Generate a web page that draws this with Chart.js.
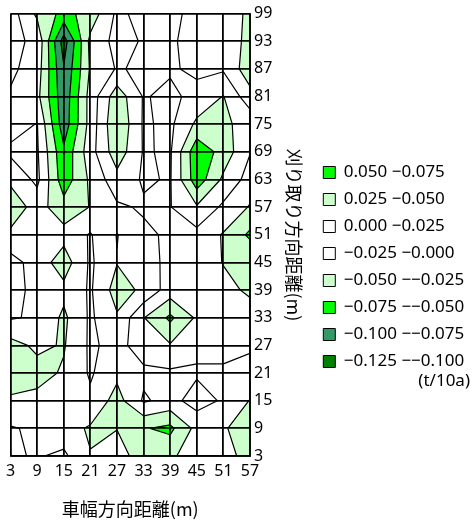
<!DOCTYPE html>
<html lang="ja">
<head>
<meta charset="utf-8">
<script src="https://cdn.jsdelivr.net/npm/chart.js@4.4.1/dist/chart.umd.min.js"></script>
<style>
html,body{margin:0;padding:0;background:#ffffff;}
#wrap{position:relative;width:473px;height:523px;}
canvas{display:block;}
</style>
</head>
<body>
<div id="wrap"><canvas id="chart" width="473" height="523"></canvas></div>
<script>
// ---- grid coordinates (m) and tick labels ----
const xPositions = [3, 9, 15, 21, 27, 33, 39, 45, 51, 57];
const yPositions = [3, 9, 15, 21, 27, 33, 39, 45, 51, 57, 63, 69, 75, 81, 87, 93, 99];
const xTickLabels = ['3', '9', '15', '21', '27', '33', '39', '45', '51', '57'];
const yTickLabels = ['3', '9', '15', '21', '27', '33', '39', '45', '51', '57', '63', '69', '75', '81', '87', '93', '99'];

// ---- measured values (t/10a), one row per y, columns x = 3 ... 57 ----
const z99 = [0.012, -0.030, -0.058, -0.040, 0.005, -0.007, -0.005, 0.006, 0.003, 0.033];
const z93 = [0.006, -0.005, -0.112, -0.018, 0.008, -0.002, -0.003, 0.008, 0.004, 0.035];
const z87 = [0.005, -0.012, -0.098, -0.022, 0.002, -0.004, -0.003, 0.005, 0.003, 0.040];
const z81 = [-0.003, -0.018, -0.092, -0.015, 0.040, -0.002, 0.006, -0.008, -0.026, 0.016];
const z75 = [-0.010, 0.001, -0.090, -0.015, 0.048, -0.003, 0.005, -0.030, -0.028, -0.019];
const z69 = [0.005, 0.003, -0.070, -0.010, 0.040, -0.002, 0.003, -0.068, -0.040, -0.001];
const z63 = [-0.020, 0.006, -0.065, -0.020, 0.016, -0.003, 0.002, -0.065, -0.020, 0.010];
const z57 = [-0.040, -0.015, -0.040, -0.024, -0.004, 0.003, 0.001, -0.022, 0.005, 0.027];
const z51 = [-0.020, -0.008, -0.016, 0.002, -0.026, -0.005, 0.004, 0.008, 0.027, 0.055];
const z45 = [0.010, -0.011, -0.038, 0.004, -0.024, -0.008, 0.005, 0.010, 0.026, 0.0255];
const z39 = [0.005, -0.004, -0.018, 0.003, -0.036, -0.020, 0.012, 0.006, 0.018, 0.029];
const z33 = [0.002, -0.003, -0.030, 0.004, -0.022, 0.024, 0.055, 0.021, 0.008, 0.014];
const z27 = [-0.034, -0.020, -0.027, 0.004, -0.008, 0.012, 0.023, 0.006, 0.004, 0.002];
const z21 = [-0.036, -0.034, -0.022, 0.003, -0.019, -0.005, -0.004, -0.003, -0.002, -0.005];
const z15 = [-0.022, -0.018, -0.010, -0.005, -0.035, 0.003, -0.008, 0.010, -0.003, -0.026];
const z9  = [0.002, -0.004, -0.015, -0.028, -0.026, -0.048, -0.056, -0.017, -0.023, -0.035];
const z3  = [0.003, -0.002, 0.005, -0.024, -0.010, -0.042, -0.030, -0.010, -0.015, -0.035];
const zRows = [z3, z9, z15, z21, z27, z33, z39, z45, z51, z57, z63, z69, z75, z81, z87, z93, z99];

// ---- colour bands (legend order, top to bottom) ----
const bandLabels = ['0.050 \u22120.075', '0.025 \u22120.050', '0.000 \u22120.025', '\u22120.025 \u22120.000',
                    '\u22120.050 \u2212\u22120.025', '\u22120.075 \u2212\u22120.050', '\u22120.100 \u2212\u22120.075', '\u22120.125 \u2212\u22120.100'];
const bandLow  = [0.050, 0.025, 0.000, -0.025, -0.050, -0.075, -0.100, -0.125];
const bandHigh = [0.075, 0.050, 0.025, 0.000, -0.025, -0.050, -0.075, -0.100];
const bandColors = ['#00ff00', '#ccffcc', '#ffffff', '#ffffff', '#ccffcc', '#00ff00', '#339966', '#008000'];
const contourLevels = [-0.125, -0.100, -0.075, -0.050, -0.025, 0.000, 0.025, 0.050, 0.075];

const unitLabel = '(t/10a)';
const xTitle = '車幅方向距離(m)';
const yTitle = '刈り取り方向距離(m)';

const LATIN = '"Noto Sans", "Noto Sans CJK JP", sans-serif';
const CJK = '"Noto Sans CJK JP", "Noto Sans", sans-serif';

// grid points for the library (x, y in metres, z value)
const gridPoints = [];
yPositions.forEach((yv, j) => xPositions.forEach((xv, i) => gridPoints.push({x: xv, y: yv, z: zRows[j][i]})));

function clipPoly(poly, t, s) {
  if (!isFinite(t) || poly.length === 0) return poly;
  const out = [];
  for (let k = 0; k < poly.length; k++) {
    const a = poly[k], b = poly[(k + 1) % poly.length];
    const ina = s * (a.z - t) >= 0, inb = s * (b.z - t) >= 0;
    if (ina) out.push(a);
    if (ina !== inb) {
      const f = (t - a.z) / (b.z - a.z);
      out.push({x: a.x + f * (b.x - a.x), y: a.y + f * (b.y - a.y), z: t});
    }
  }
  return out;
}
function edgePt(p, q, L) {
  const f = (L - p.z) / (q.z - p.z);
  return {x: p.x + f * (q.x - p.x), y: p.y + f * (q.y - p.y)};
}

const contourPlugin = {
  id: 'contourBands',
  beforeDatasetsDraw(chart) {
    const pts = chart.data.datasets[0].data;
    const xs = chart.scales.x, ys = chart.scales.y;
    const nx = xPositions.length, ny = yPositions.length;
    const node = (i, j) => {
      const p = pts[j * nx + i];
      return {x: xs.getPixelForValue(p.x), y: ys.getPixelForValue(p.y), z: p.z};
    };
    const ctx = chart.ctx, a = chart.chartArea;
    ctx.save();
    ctx.beginPath();
    ctx.rect(a.left, a.top, a.right - a.left, a.bottom - a.top);
    ctx.clip();
    ctx.lineJoin = 'round';
    const cells = [];
    for (let j = 0; j < ny - 1; j++) {
      for (let i = 0; i < nx - 1; i++) {
        cells.push([node(i, j), node(i + 1, j), node(i + 1, j + 1), node(i, j + 1)]);
      }
    }
    // filled bands
    cells.forEach(cell => {
      for (let b = 0; b < bandLow.length; b++) {
        const lo = b === bandLow.length - 1 ? -Infinity : bandLow[b];
        const hi = b === 0 ? Infinity : bandHigh[b];
        let poly = clipPoly(cell, lo, 1);
        poly = clipPoly(poly, hi, -1);
        if (poly.length < 3) continue;
        ctx.beginPath();
        poly.forEach((p, k) => k ? ctx.lineTo(p.x, p.y) : ctx.moveTo(p.x, p.y));
        ctx.closePath();
        ctx.fillStyle = bandColors[b];
        ctx.fill();
        ctx.strokeStyle = bandColors[b];
        ctx.lineWidth = 0.8;
        ctx.stroke();
      }
    });
    // contour lines
    ctx.strokeStyle = '#000000';
    ctx.lineWidth = 1.2;
    ctx.beginPath();
    const seg = (p, q) => { ctx.moveTo(p.x, p.y); ctx.lineTo(q.x, q.y); };
    cells.forEach(cell => {
      contourLevels.forEach(L => {
        const c = cell.map(p => ({x: p.x, y: p.y, z: p.z === L ? p.z + 1e-7 : p.z}));
        const ab = c.map(p => p.z > L);
        const e = [];
        for (let k = 0; k < 4; k++) {
          const k2 = (k + 1) % 4;
          e.push(ab[k] !== ab[k2] ? edgePt(c[k], c[k2], L) : null);
        }
        const found = e.filter(v => v);
        if (found.length === 2) seg(found[0], found[1]);
        else if (found.length === 4) {
          const center = (c[0].z + c[1].z + c[2].z + c[3].z) / 4;
          if ((center > L) === ab[0]) { seg(e[0], e[1]); seg(e[2], e[3]); }
          else { seg(e[3], e[0]); seg(e[1], e[2]); }
        }
      });
    });
    ctx.stroke();
    ctx.restore();
  }
};

const LEGEND_W = 159.7;
const legendWidthPlugin = {
  id: 'legendWidth',
  beforeLayout(chart) {
    const lg = chart.legend;
    if (lg && !lg.__fixedWidth) {
      const orig = lg.fit;
      lg.fit = function () { orig.call(this); this.width = LEGEND_W; };
      lg.__fixedWidth = true;
    }
  }
};

const unitPlugin = {
  id: 'unitNote',
  afterDraw(chart) {
    const lg = chart.legend;
    if (!lg || !lg.legendHitBoxes || !lg.legendHitBoxes.length) return;
    const hb = lg.legendHitBoxes[lg.legendHitBoxes.length - 1];
    const ctx = chart.ctx;
    ctx.save();
    ctx.font = '17px ' + LATIN;
    ctx.fillStyle = '#000000';
    ctx.textAlign = 'right';
    ctx.textBaseline = 'middle';
    ctx.fillText(unitLabel, chart.width - 3, hb.top + hb.height + 11);
    ctx.restore();
  }
};

const datasets = [{
  type: 'scatter',
  label: 'grid',
  data: gridPoints,
  pointRadius: 0,
  pointHoverRadius: 0,
  showLine: false
}];
bandLabels.forEach((lab, b) => datasets.push({
  type: 'scatter',
  label: lab,
  data: [],
  backgroundColor: bandColors[b],
  borderColor: '#000000',
  borderWidth: 1
}));

new Chart(document.getElementById('chart'), {
  type: 'scatter',
  data: {datasets},
  plugins: [contourPlugin, legendWidthPlugin, unitPlugin],
  options: {
    responsive: false,
    animation: false,
    devicePixelRatio: 1,
    events: [],
    layout: {padding: {left: 9.3, top: 11, right: 0, bottom: 0}},
    scales: {
      x: {
        type: 'linear', position: 'bottom', min: 3, max: 57,
        afterBuildTicks: s => { s.ticks = xPositions.map(v => ({value: v})); },
        afterFit: s => { s.height = 67; },
        ticks: {
          color: '#000000', font: {family: LATIN, size: 16}, padding: 6,
          maxRotation: 0, autoSkip: false,
          callback: v => xTickLabels[xPositions.indexOf(v)]
        },
        grid: {color: '#000000', lineWidth: 1.8, drawTicks: false, z: 1},
        border: {color: '#000000', width: 1.8, z: 1},
        title: {display: true, text: xTitle, color: '#000000', font: {family: CJK, size: 18}, padding: {top: 0, bottom: 3}}
      },
      y: {
        type: 'linear', position: 'right', min: 3, max: 99,
        afterBuildTicks: s => { s.ticks = yPositions.map(v => ({value: v})); },
        afterFit: s => { s.width = 63.3; },
        ticks: {
          color: '#000000', font: {family: LATIN, size: 16}, padding: 4,
          autoSkip: false,
          callback: v => yTickLabels[yPositions.indexOf(v)]
        },
        grid: {color: '#000000', lineWidth: 1.8, drawTicks: false, z: 1},
        border: {color: '#000000', width: 1.8, z: 1},
        title: {display: true, text: yTitle, color: '#000000', font: {family: CJK, size: 18}, padding: {top: 8.5, bottom: 0}}
      }
    },
    plugins: {
      legend: {
        display: true, position: 'right', align: 'center',
        labels: {
          boxWidth: 12, boxHeight: 12, padding: 10, color: '#000000',
          font: {family: LATIN, size: 17},
          filter: item => item.datasetIndex > 0
        }
      },
      tooltip: {enabled: false}
    }
  }
});
</script>
</body>
</html>
